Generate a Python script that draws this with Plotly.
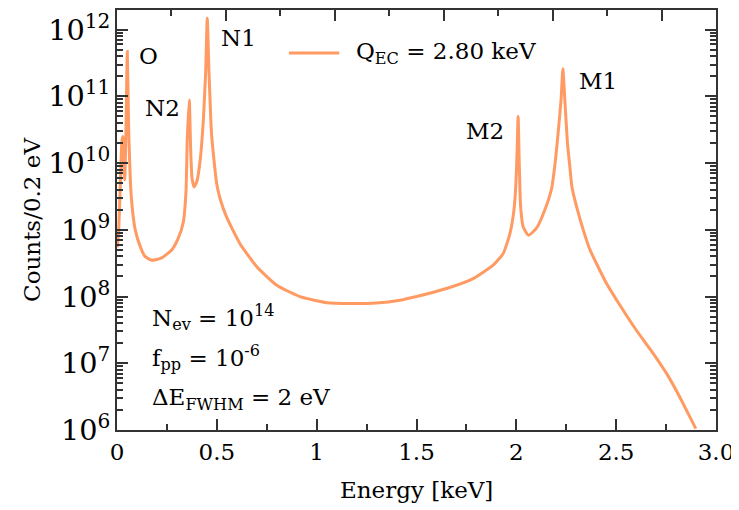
import plotly.graph_objects as go

# ---- data ----
energy_kev = [0.002, 0.0085, 0.0165, 0.025, 0.030, 0.0386, 0.045, 0.0516, 0.0586, 0.0716,
              0.0916, 0.1167, 0.140, 0.174, 0.224, 0.274, 0.307, 0.332, 0.3455, 0.352,
              0.362, 0.369, 0.3756, 0.3856, 0.399, 0.4156, 0.432, 0.444, 0.452, 0.4607,
              0.474, 0.499, 0.516, 0.549, 0.616, 0.70, 0.80, 0.916, 1.05, 1.167,
              1.30, 1.417, 1.50, 1.65, 1.784, 1.884, 1.934, 1.968, 1.988, 1.998,
              2.004, 2.009, 2.015, 2.0215, 2.0345, 2.061, 2.102, 2.143, 2.177, 2.196,
              2.211, 2.224, 2.233, 2.243, 2.256, 2.268, 2.278, 2.302, 2.335, 2.369,
              2.452, 2.519, 2.602, 2.686, 2.753, 2.819, 2.869, 2.899]
counts = [5.5e8, 9.9e8, 4.7e9, 2.2e10, 2.5e10, 5.6e9, 3.2e10, 4.7e11, 3.1e10, 3.1e9,
          9.9e8, 5.6e8, 4.0e8, 3.5e8, 3.8e8, 5.0e8, 7.5e8, 1.3e9, 3.7e9, 2.3e10,
          8.8e10, 1.57e10, 6.0e9, 4.4e9, 5.2e9, 1.05e10, 4.2e10, 2.3e11, 1.48e12, 2.3e11,
          2.6e10, 5.0e9, 2.95e9, 1.55e9, 6.2e8, 2.8e8, 1.48e8, 1.0e8, 8.1e7, 7.85e7,
          8.0e7, 8.8e7, 1.0e8, 1.32e8, 1.86e8, 2.95e8, 4.4e8, 8.8e8, 1.97e9, 5.0e9,
          1.57e10, 5.0e10, 8.8e9, 2.2e9, 1.1e9, 8.3e8, 1.07e9, 2.0e9, 4.2e9, 1.12e10,
          3.2e10, 8.9e10, 2.6e11, 8.8e10, 2.0e10, 8.9e9, 4.5e9, 2.2e9, 1.0e9, 5.0e8,
          1.57e8, 7.4e7, 3.1e7, 1.4e7, 7.0e6, 3.1e6, 1.57e6, 1.05e6]

x_tickvals = [0, 0.5, 1.0, 1.5, 2.0, 2.5, 3.0]
x_ticktext = ["0", "0.5", "1", "1.5", "2", "2.5", "3.0"]

peak_labels = ["O", "N2", "N1", "M2", "M1"]
peak_label_x = [0.16, 0.23, 0.606, 1.843, 2.409]
peak_label_logy = [11.6, 10.83, 11.88, 10.48, 11.23]

info_texts = ["N<sub>ev</sub> = 10<sup>14</sup>",
              "f<sub>pp</sub> = 10<sup>-6</sup>",
              "ΔE<sub>FWHM</sub> = 2 eV"]
info_logy = [7.68, 7.08, 6.46]

legend_name = "Q<sub>EC</sub> = 2.80 keV"
x_title = "Energy [keV]"
y_title = "Counts/0.2 eV"

FONT = "DejaVu Serif, Liberation Serif, serif"
FS = 23
AXC = "#333333"
LINE_COLOR = "#ff9a63"

fig = go.Figure()
fig.add_trace(go.Scatter(x=energy_kev, y=counts, mode="lines", name=legend_name,
                         line=dict(color=LINE_COLOR, width=3, shape="spline", smoothing=0.5),
                         showlegend=False))
# empty trace to activate the top axis
fig.add_trace(go.Scatter(x=[None], y=[None], xaxis="x2", showlegend=False, hoverinfo="skip"))

for t, x, y in zip(peak_labels, peak_label_x, peak_label_logy):
    fig.add_annotation(x=x, y=y, text=t, showarrow=False, xref="x", yref="y",
                       font=dict(family=FONT, size=FS, color="black"))
for t, y in zip(info_texts, info_logy):
    fig.add_annotation(x=0.165, y=y, text=t, showarrow=False, xref="x", yref="y",
                       xanchor="left", yanchor="middle",
                       font=dict(family=FONT, size=FS, color="black"))

# legend drawn by hand (sample line + label)
fig.add_shape(type="line", xref="paper", yref="paper", x0=0.287, x1=0.371, y0=0.8976, y1=0.8976,
              line=dict(color=LINE_COLOR, width=3))
fig.add_annotation(x=0.396, y=0.8976, xref="paper", yref="paper", text=legend_name,
                   showarrow=False, xanchor="left", yanchor="middle",
                   font=dict(family=FONT, size=FS, color="black"))

# axis titles
fig.add_annotation(x=0.5, y=-0.143, xref="paper", yref="paper", text=x_title, showarrow=False,
                   xanchor="center", yanchor="middle", font=dict(family=FONT, size=FS, color="black"))
fig.add_annotation(x=-0.142, y=0.5, xref="paper", yref="paper", text=y_title, showarrow=False,
                   textangle=-90, xanchor="center", yanchor="middle",
                   font=dict(family=FONT, size=FS, color="black"))

# the page body has an 8 px margin, so the figure is 8 px smaller on each side
fig.update_layout(
    width=731, height=502,
    margin=dict(l=109, r=23, t=2, b=80, autoexpand=False),
    paper_bgcolor="white", plot_bgcolor="white",
    font=dict(family=FONT, size=FS, color="black"),
    showlegend=False,
    xaxis=dict(range=[0, 3.0], tickmode="array", tickvals=x_tickvals, ticktext=x_ticktext,
               ticks="inside", ticklen=11, tickwidth=1.5, tickcolor=AXC,
               minor=dict(dtick=0.25, tick0=0, ticks="inside", ticklen=6, tickwidth=1.5, tickcolor=AXC),
               showline=True, linewidth=2, linecolor=AXC, mirror=False,
               showgrid=False, zeroline=False, automargin=False,
               tickfont=dict(family=FONT, size=FS)),
    xaxis2=dict(range=[0, 5.5], overlaying="x", side="top", anchor="y",
                tickmode="linear", tick0=0, dtick=1, ticks="inside", ticklen=11, tickwidth=1.5,
                tickcolor=AXC,
                minor=dict(dtick=0.5, tick0=0, ticks="inside", ticklen=6, tickwidth=1.5, tickcolor=AXC),
                showticklabels=False, showline=True, linewidth=2, linecolor=AXC,
                showgrid=False, zeroline=False, automargin=False),
    yaxis=dict(type="log", range=[6, 12.295], tickmode="linear", tick0=0, dtick=1,
               exponentformat="power", showexponent="all",
               ticks="inside", ticklen=11, tickwidth=1.5, tickcolor=AXC,
               minor=dict(dtick="D1", ticks="inside", ticklen=6, tickwidth=1.5, tickcolor=AXC),
               showline=True, linewidth=2, linecolor=AXC, mirror="ticks",
               showgrid=False, zeroline=False, automargin=False,
               tickfont=dict(family=FONT, size=FS)),
)

fig.write_html("out.html")
